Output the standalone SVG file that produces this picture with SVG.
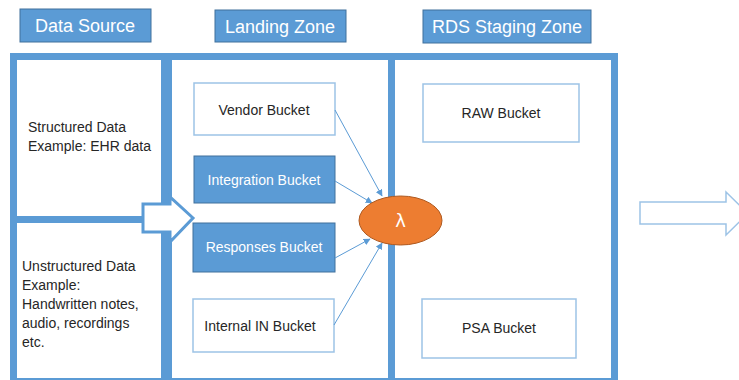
<svg xmlns="http://www.w3.org/2000/svg" width="739" height="380" viewBox="0 0 739 380">
<defs>
<style>
.title{fill:#5B9BD5;stroke:#41719C;stroke-width:1}
.tt{font-family:"Liberation Sans",Arial,sans-serif;font-size:18px;fill:#FFFFFF;text-anchor:middle}
.bk{fill:#FFFFFF;stroke:#9DC3E6;stroke-width:1.5}
.bkf{fill:#5B9BD5;stroke:#41719C;stroke-width:1}
.t{font-family:"Liberation Sans",Arial,sans-serif;font-size:14px;fill:#262626}
.tc{text-anchor:middle}
.tw{fill:#FFFFFF}
.con{stroke:#5B9BD5;stroke-width:1;fill:none;marker-end:url(#ah)}
</style>
<marker id="ah" viewBox="0 0 10 10" refX="9" refY="5" markerWidth="7" markerHeight="7" orient="auto" markerUnits="userSpaceOnUse">
<path d="M0,0 L10,5 L0,10 z" fill="#5B9BD5"/>
</marker>
</defs>
<rect width="739" height="380" fill="#FFFFFF"/>

<g id="frame">
<rect x="10" y="53" width="608" height="335" fill="#5B9BD5"/>
</g>

<g id="title-data-source">
<rect class="title" x="20" y="9" width="131" height="33"/>
<text class="tt" x="85" y="32">Data Source</text>
</g>
<g id="title-landing-zone">
<rect class="title" x="215" y="10" width="131" height="32"/>
<text class="tt" x="280" y="33">Landing Zone</text>
</g>
<g id="title-rds-staging">
<rect class="title" x="423" y="10" width="168" height="33"/>
<text class="tt" x="507" y="33" font-size="17.5">RDS Staging Zone</text>
</g>

<g id="structured-data">
<rect x="17" y="60" width="144" height="156" fill="#FFFFFF"/>
<text class="t" x="28" y="132">Structured Data</text>
<text class="t" x="28" y="151">Example: EHR data</text>
</g>
<g id="unstructured-data">
<rect x="17" y="223" width="144" height="155" fill="#FFFFFF"/>
<text class="t" x="22" y="271">Unstructured Data</text>
<text class="t" x="22" y="290">Example:</text>
<text class="t" x="22" y="309">Handwritten notes,</text>
<text class="t" x="22" y="328">audio, recordings</text>
<text class="t" x="22" y="347">etc.</text>
</g>
<g id="landing-zone">
<rect x="172" y="60" width="216" height="318" fill="#FFFFFF"/>
</g>
<g id="rds-staging-zone">
<rect x="395" y="60" width="216" height="318" fill="#FFFFFF"/>
</g>

<g id="ingest-arrow">
<path d="M143,204 L170,204 L170,197 L193,218 L170,242 L170,232 L143,232 Z" fill="#FFFFFF" stroke="#5B9BD5" stroke-width="3" stroke-linejoin="miter"/>
</g>

<g id="vendor-bucket">
<rect class="bk" x="194" y="83" width="141" height="52"/>
<text class="t tc" x="264" y="115">Vendor Bucket</text>
</g>
<g id="integration-bucket">
<rect class="bkf" x="194" y="156" width="141" height="47"/>
<text class="t tc tw" x="264" y="185">Integration Bucket</text>
</g>
<g id="responses-bucket">
<rect class="bkf" x="193" y="223" width="142" height="49"/>
<text class="t tc tw" x="264" y="252">Responses Bucket</text>
</g>
<g id="internal-in-bucket">
<rect class="bk" x="193" y="299" width="141" height="53"/>
<text class="t tc" x="260" y="331">Internal IN Bucket</text>
</g>
<g id="raw-bucket">
<rect class="bk" x="423" y="84" width="156" height="58"/>
<text class="t tc" x="501" y="118">RAW Bucket</text>
</g>
<g id="psa-bucket">
<rect class="bk" x="422" y="299" width="154" height="59"/>
<text class="t tc" x="499" y="333">PSA Bucket</text>
</g>

<g id="connectors">
<line class="con" x1="335" y1="110" x2="382" y2="196"/>
<line class="con" x1="335" y1="181" x2="372" y2="203"/>
<line class="con" x1="335" y1="258" x2="370" y2="239"/>
<line class="con" x1="334" y1="325" x2="382" y2="243"/>
</g>

<g id="lambda">
<ellipse cx="400.5" cy="220.5" rx="41.5" ry="24.5" fill="#ED7D31" stroke="#AE5A21" stroke-width="1"/>
<text x="400.5" y="227" font-family="'DejaVu Sans',sans-serif" font-size="18" fill="#FFFFFF" text-anchor="middle">λ</text>
</g>

<g id="output-arrow">
<path d="M640,202 L726,202 L726,192 L748,213.5 L726,235 L726,224 L640,224 Z" fill="#FFFFFF" stroke="#9DC3E6" stroke-width="1.5"/>
</g>
</svg>
